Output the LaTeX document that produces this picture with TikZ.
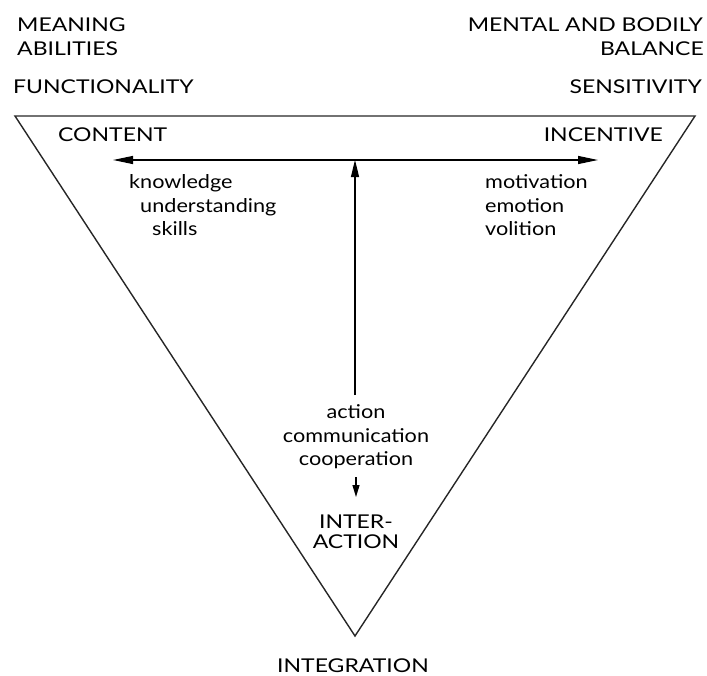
\documentclass[tikz,border=0pt]{standalone}
\usepackage{fontspec}
\setmainfont{Lato}
\newfontfamily\capsfnt{Lato}[FakeStretch=1.21]
\newfontfamily\lowfnt{Lato}[FakeStretch=1.14]
\usetikzlibrary{arrows.meta}
\begin{document}
\begin{tikzpicture}[x=1pt,y=-1pt,
  caps/.style={inner sep=0pt,font=\fontsize{19}{20}\capsfnt},
  low/.style={inner sep=0pt,font=\fontsize{19}{22}\lowfnt},
  edge/.style={line width=1.4pt,black!85},
  arr/.style={line width=1.2pt,-{Stealth[length=20pt,width=8pt,inset=0pt]}}]
\useasboundingbox (0,0) rectangle (707,675);
% triangle
\coordinate (tl) at (15,116);
\coordinate (tr) at (695,116);
\coordinate (bt) at (355,636);
\draw[edge,line join=miter] (tr) -- (tl) -- (bt) -- cycle;
% arrows
\coordinate (hub) at (355,160);
\coordinate (lend) at (113,160);
\coordinate (rend) at (598,160);
\coordinate (vbot) at (355,395);
\coordinate (sa) at (356,477);
\coordinate (sb) at (356,497);
\draw[arr] (hub) -- (lend);
\draw[arr] (hub) -- (rend);
\draw[arr,-{Stealth[length=17pt,width=8pt,inset=0pt]}] (vbot) -- (hub);
\draw[arr,-{Stealth[length=12pt,width=7pt,inset=0pt]}] (sa) -- (sb);
% labels left
\node[caps,anchor=base west] (meaning) at (17,31) {MEANING};
\node[caps,anchor=base west] (abilities) at (17,55) {ABILITIES};
\node[caps,anchor=base west] (func) at (13,93) {FUNCTIONALITY};
\node[caps,anchor=base west] (content) at (58,141) {CONTENT};
\node[low,anchor=base west] (know) at (129,188) {knowledge};
\node[low,anchor=base west] (under) at (140,212) {understanding};
\node[low,anchor=base west] (skills) at (152,235) {skills};
% labels right
\node[caps,anchor=base east] (mental) at (703,31) {MENTAL AND BODILY};
\node[caps,anchor=base east] (balance) at (704,55) {BALANCE};
\node[caps,anchor=base east] (sens) at (702,93) {SENSITIVITY};
\node[caps,anchor=base east] (incent) at (663,141) {INCENTIVE};
\node[low,anchor=base west] (motiv) at (485,188) {motivation};
\node[low,anchor=base west] (emot) at (485,212) {emotion};
\node[low,anchor=base west] (voli) at (485,235) {volition};
% bottom
\node[low,anchor=base] (action) at (356,418) {action};
\node[low,anchor=base] (comm) at (356,442) {communication};
\node[low,anchor=base] (coop) at (356,465) {cooperation};
\node[caps,align=center,anchor=base] (inter) at (356,548) {INTER-\\ACTION};
\node[caps,anchor=base] (integ) at (353,672) {INTEGRATION};
\end{tikzpicture}
\end{document}
